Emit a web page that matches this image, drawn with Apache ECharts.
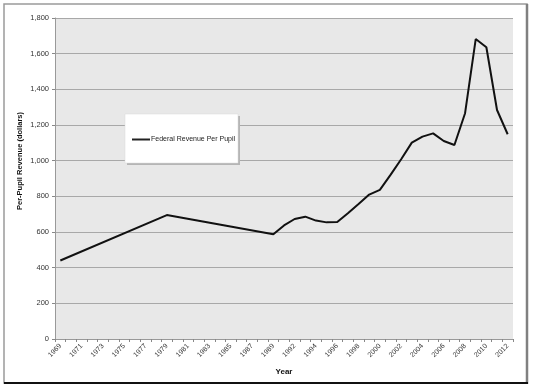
<!DOCTYPE html>
<html><head><meta charset="utf-8">
<script src="https://cdn.jsdelivr.net/npm/echarts@6/dist/echarts.min.js"></script>
<style>html,body{margin:0;padding:0;background:#fff}#c{width:534px;height:389px}</style>
</head><body><div id="c"></div>
<script>
// Categories (one year, 1991, absent from the source axis)
const years = ['1969','1970','1971','1972','1973','1974','1975','1976','1977','1978','1979','1980','1981','1982','1983','1984','1985','1986','1987','1988','1989','1991','1992','1993','1994','1995','1996','1997','1998','1999','2000','2001','2002','2003','2004','2005','2006','2007','2008','2009','2010','2011','2012'];
const revenue = [440,null,null,null,null,null,null,null,null,null,695,null,null,null,null,null,null,null,null,null,587,637,673,686,664,654,656,705,757,810,836,920,1008,1101,1135,1153,1110,1088,1266,1682,1636,1284,1148];
const yTicks = {min:0, max:1800, interval:200};
const seriesName = 'Federal Revenue Per Pupil';
const yTitle = 'Per-Pupil Revenue (dollars)';
const xTitle = 'Year';

const chart = echarts.init(document.getElementById('c'), null, {renderer:'canvas'});
const font = 'Liberation Sans';
chart.setOption({
  animation:false,
  backgroundColor:'#fff',
  textStyle:{fontFamily:font},
  graphic:[
    {type:'rect', shape:{x:4,y:4,width:523,height:379}, style:{fill:'none', stroke:'#9a9a9a', lineWidth:1.5}, z:0},
    {type:'line', shape:{x1:527,y1:4,x2:527,y2:384}, style:{stroke:'#808080', lineWidth:2.5}, z:1},
    {type:'line', shape:{x1:4,y1:383,x2:528,y2:383}, style:{stroke:'#111', lineWidth:2}, z:1},
    {type:'rect', shape:{x:127,y:116,width:113,height:49}, style:{fill:'#b5b5b5'}, z:9},
    {type:'rect', shape:{x:125,y:114,width:113,height:49}, style:{fill:'#fff', stroke:'#d8d8d8', lineWidth:0.5}, z:10},
    {type:'text', x:20, y:161, rotation:Math.PI/2, z:5,
     style:{text:yTitle, fontFamily:font, fontSize:7.5, fontWeight:'bold', fill:'#111', align:'center', verticalAlign:'middle'}}
  ],
  legend:{
    show:true, left:132, top:136, itemWidth:18, itemHeight:2, itemGap:0,
    icon:'rect', z:11, padding:0,
    textStyle:{fontFamily:font, fontSize:7, color:'#222', padding:[0,0,0,-4]},
    data:[{name:seriesName, icon:'rect', itemStyle:{color:'#222'}}]
  },
  grid:{left:55, right:21, top:18, bottom:50, show:true, backgroundColor:'#e8e8e8', borderWidth:0},
  xAxis:{
    type:'category', data:years, boundaryGap:true,
    name:xTitle, nameLocation:'middle', nameGap:29,
    nameTextStyle:{fontFamily:font, fontSize:8, fontWeight:'bold', color:'#111'},
    axisLine:{show:true, lineStyle:{color:'#999', width:1}},
    axisTick:{show:true, interval:0, alignWithLabel:false, length:3, lineStyle:{color:'#888'}},
    axisLabel:{interval:1, rotate:45, fontSize:7, color:'#333', margin:6},
    splitLine:{show:false}
  },
  yAxis:{
    type:'value', min:yTicks.min, max:yTicks.max, interval:yTicks.interval,
    axisLine:{show:true, lineStyle:{color:'#999'}},
    axisTick:{show:true, length:3, lineStyle:{color:'#888'}},
    axisLabel:{fontSize:7.5, color:'#333', margin:6, formatter:v=>v.toLocaleString('en-US')},
    splitLine:{show:true, lineStyle:{color:'#a8a8a8', width:1}}
  },
  series:[{
    name:seriesName, type:'line', data:revenue, connectNulls:true,
    showSymbol:false, symbol:'none',
    lineStyle:{color:'#111', width:2}, itemStyle:{color:'#111'}
  }]
});
</script></body></html>
